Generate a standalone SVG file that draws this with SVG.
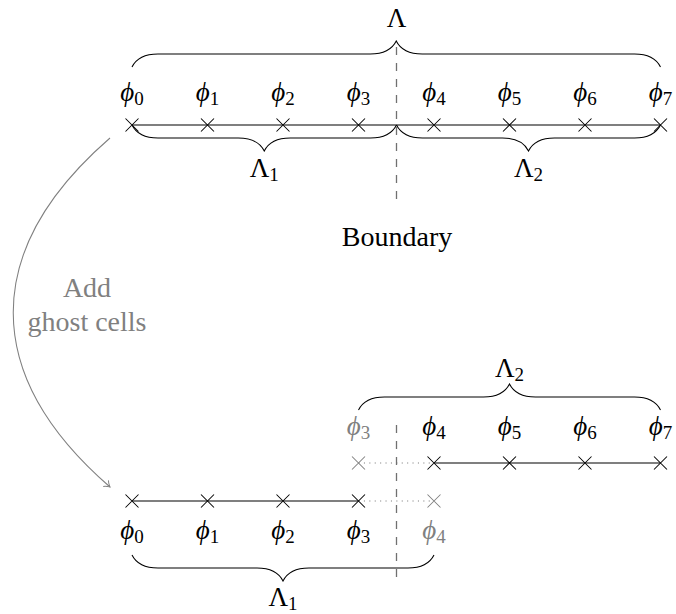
<svg xmlns="http://www.w3.org/2000/svg" width="676" height="614" viewBox="0 0 676 614">
<style>
text{font-family:'Liberation Serif','DejaVu Serif',serif;font-size:27px;fill:#000;text-anchor:middle}
.big{font-size:28px}
.phi{font-style:italic}
.sub{font-style:normal;font-size:19px}
.ghost{fill:#808080}
.ln{stroke:#000;stroke-width:1.06;fill:none}
.gln{stroke:#808080;stroke-width:1.06;fill:none}
.dot{stroke:#808080;stroke-width:1.1;fill:none;stroke-dasharray:1.1 4.3}
.dash{stroke:#707070;stroke-width:1.3;fill:none;stroke-dasharray:8 8}
.x{stroke:#000;stroke-width:1.06;fill:none}
.gx{stroke:#808080;stroke-width:1.06;fill:none}
</style>
<defs>
<path id="cx" d="M-6.5,-6.5L6.5,6.5M-6.5,6.5L6.5,-6.5"/>
<marker id="arr" markerUnits="userSpaceOnUse" markerWidth="10" markerHeight="12" viewBox="-8 -6 10 12" refX="0" refY="0" orient="auto">
<path d="M-5.5,-4 C-3.5,-1.5 -1,-0.5 0,0 C-1,0.5 -3.5,1.5 -5.5,4" fill="none" stroke="#808080" stroke-width="1"/>
</marker>
</defs>

<g id="connectors">
<path class="ln" d="M132,125H660.5"/>
<path class="ln" d="M434,463H660.5"/>
<path class="ln" d="M132,501H358.5"/>
<path class="dot" d="M358.5,463H434"/>
<path class="dot" d="M358.5,501H434"/>
<path class="gln" d="M110,138 C-19,250 -19,375 110,487" marker-end="url(#arr)"/>
</g>

<g id="boundary">
<path class="dash" d="M396.5,47V200"/>
<path class="dash" d="M396.5,425V578"/>
<text class="big" x="397" y="246">Boundary</text>
</g>

<g id="brace-Lambda">
<path class="ln" d="M132,67 C135.9,59.2 145,54 158,54 L370.25,54 C383.25,54 392.35,48.8 396.25,41 C400.15,48.8 409.25,54 422.25,54 L634.5,54 C647.5,54 656.6,59.2 660.5,67"/>
<text x="396.5" y="27">Λ</text>
</g>
<g id="brace-Lambda1-top">
<path class="ln" d="M132,125 C135.9,132.8 145,138 158,138 L238.25,138 C251.25,138 260.35,143.2 264.25,151 C268.15,143.2 277.25,138 290.25,138 L370.5,138 C383.5,138 392.6,132.8 396.5,125"/>
<text x="264.25" y="177">Λ<tspan class="sub" dy="4">1</tspan></text>
</g>
<g id="brace-Lambda2-top">
<path class="ln" d="M396.5,125 C400.4,132.8 409.5,138 422.5,138 L502.5,138 C515.5,138 524.6,143.2 528.5,151 C532.4,143.2 541.5,138 554.5,138 L634.5,138 C647.5,138 656.6,132.8 660.5,125"/>
<text x="528.5" y="177">Λ<tspan class="sub" dy="4">2</tspan></text>
</g>

<g id="top-phi0"><use href="#cx" class="x" x="132" y="125"/><text class="phi" x="132" y="101">ϕ<tspan class="sub" dy="4">0</tspan></text></g>
<g id="top-phi1"><use href="#cx" class="x" x="207.5" y="125"/><text class="phi" x="207.5" y="101">ϕ<tspan class="sub" dy="4">1</tspan></text></g>
<g id="top-phi2"><use href="#cx" class="x" x="283" y="125"/><text class="phi" x="283" y="101">ϕ<tspan class="sub" dy="4">2</tspan></text></g>
<g id="top-phi3"><use href="#cx" class="x" x="358.5" y="125"/><text class="phi" x="358.5" y="101">ϕ<tspan class="sub" dy="4">3</tspan></text></g>
<g id="top-phi4"><use href="#cx" class="x" x="434" y="125"/><text class="phi" x="434" y="101">ϕ<tspan class="sub" dy="4">4</tspan></text></g>
<g id="top-phi5"><use href="#cx" class="x" x="509.5" y="125"/><text class="phi" x="509.5" y="101">ϕ<tspan class="sub" dy="4">5</tspan></text></g>
<g id="top-phi6"><use href="#cx" class="x" x="585" y="125"/><text class="phi" x="585" y="101">ϕ<tspan class="sub" dy="4">6</tspan></text></g>
<g id="top-phi7"><use href="#cx" class="x" x="660.5" y="125"/><text class="phi" x="660.5" y="101">ϕ<tspan class="sub" dy="4">7</tspan></text></g>

<g id="ghost-label">
<text class="ghost big" x="87" y="297">Add</text>
<text class="ghost big" x="87" y="331">ghost cells</text>
</g>

<g id="brace-Lambda2-low">
<path class="ln" d="M358.5,410 C362.4,402.2 371.5,397 384.5,397 L483.5,397 C496.5,397 505.6,391.8 509.5,384 C513.4,391.8 522.5,397 535.5,397 L634.5,397 C647.5,397 656.6,402.2 660.5,410"/>
<text x="509.5" y="377">Λ<tspan class="sub" dy="4">2</tspan></text>
</g>
<g id="r2-phi3"><use href="#cx" class="gx" x="358.5" y="463"/><text class="phi ghost" x="358.5" y="435">ϕ<tspan class="sub" dy="4">3</tspan></text></g>
<g id="r2-phi4"><use href="#cx" class="x" x="434" y="463"/><text class="phi" x="434" y="435">ϕ<tspan class="sub" dy="4">4</tspan></text></g>
<g id="r2-phi5"><use href="#cx" class="x" x="509.5" y="463"/><text class="phi" x="509.5" y="435">ϕ<tspan class="sub" dy="4">5</tspan></text></g>
<g id="r2-phi6"><use href="#cx" class="x" x="585" y="463"/><text class="phi" x="585" y="435">ϕ<tspan class="sub" dy="4">6</tspan></text></g>
<g id="r2-phi7"><use href="#cx" class="x" x="660.5" y="463"/><text class="phi" x="660.5" y="435">ϕ<tspan class="sub" dy="4">7</tspan></text></g>

<g id="r1-phi0"><use href="#cx" class="x" x="132" y="501"/><text class="phi" x="132" y="539">ϕ<tspan class="sub" dy="4">0</tspan></text></g>
<g id="r1-phi1"><use href="#cx" class="x" x="207.5" y="501"/><text class="phi" x="207.5" y="539">ϕ<tspan class="sub" dy="4">1</tspan></text></g>
<g id="r1-phi2"><use href="#cx" class="x" x="283" y="501"/><text class="phi" x="283" y="539">ϕ<tspan class="sub" dy="4">2</tspan></text></g>
<g id="r1-phi3"><use href="#cx" class="x" x="358.5" y="501"/><text class="phi" x="358.5" y="539">ϕ<tspan class="sub" dy="4">3</tspan></text></g>
<g id="r1-phi4"><use href="#cx" class="gx" x="434" y="501"/><text class="phi ghost" x="434" y="539">ϕ<tspan class="sub" dy="4">4</tspan></text></g>

<g id="brace-Lambda1-low">
<path class="ln" d="M132,555 C135.9,562.8 145,568 158,568 L257,568 C270,568 279.1,573.2 283,581 C286.9,573.2 296,568 309,568 L408,568 C421,568 430.1,562.8 434,555"/>
<text x="283" y="606">Λ<tspan class="sub" dy="4">1</tspan></text>
</g>
</svg>
